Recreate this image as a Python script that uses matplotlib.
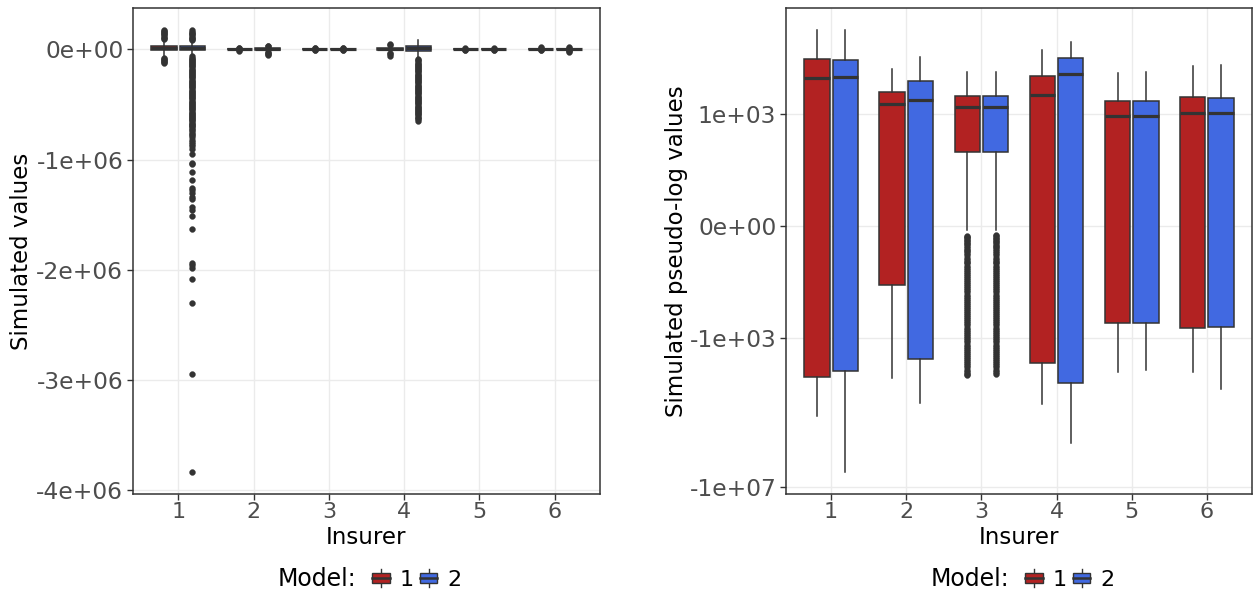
import numpy as np
import matplotlib
matplotlib.use('Agg')
import matplotlib.pyplot as plt
from matplotlib.legend_handler import HandlerBase
from matplotlib.patches import Rectangle, Patch
from matplotlib.lines import Line2D

# ---------------- data ----------------
insurers = ['1', '2', '3', '4', '5', '6']
models = ['1', '2']
model_colors = ['#B22222', '#4169E1']

# quartiles (data units), per insurer
m1_q1 = [-10900, -38, 93.5, -4690, -400, -533]
m1_med = [9060, 1860, 1520, 3180, 889, 1030]
m1_q3 = [29700, 3760, 2990, 10400, 2240, 2760]
m2_q1 = [-7870, -3760, 93.5, -16500, -400, -512]
m2_med = [9640, 2340, 1550, 11400, 889, 1050]
m2_q3 = [27500, 7670, 2990, 30500, 2240, 2690]

# whiskers on the linear panel
m1_lo_lin = [-70000, -5700, -4200, -27000, -4300, -5400]
m1_hi_lin = [88000, 9400, 7300, 33000, 6200, 7700]
m2_lo_lin = [-60000, -20000, -4200, -87000, -4300, -5400]
m2_hi_lin = [80000, 24000, 7300, 81700, 6200, 7600]

# outliers on the linear panel
m1_out_lin = [
    [95000, 105000, 115000, 125000, 135000, 145000, 155000, 165000, 174000,
     -75000, -85000, -95000, -105000, -115000, -122000],
    [10000, 15500, -6000, -11800],
    [8000, 13400, -5000, -10000],
    [40000, 49900, -30000, -45000, -60000],
    [7000, 12100, -5000, -8020],
    [9000, 18600, -6000, -8170],
]
m2_ins1_out_k = [85, 95, 105, 115, 125, 135, 145, 160, 171,
                 -65, -75, -85, -95, -105, -115, -125, -135, -145, -155, -165, -175, -185,
                 -195, -205, -215, -225, -235, -245, -255, -265, -275, -285, -295, -305,
                 -315, -325, -335, -345, -355, -365, -375, -385, -395, -405, -415, -425,
                 -435, -445, -455, -465, -475, -485, -495, -505, -515, -525, -535, -545,
                 -555, -565, -575, -585, -595, -605, -615, -625, -635, -645, -655, -665,
                 -675, -685, -695, -705, -720, -735, -750, -765, -780, -800, -820, -840,
                 -860, -880, -905,
                 -946, -1028, -1039, -1112, -1187, -1257, -1274, -1301, -1336, -1359,
                 -1432, -1456, -1511, -1631, -1939, -1961, -1982, -2081, -2299, -2942,
                 -3833]
m2_ins4_out_k = [-90, -100, -110, -120, -130, -140, -150, -160, -170, -180, -190, -200,
                 -210, -220, -230, -240, -250, -260, -270, -280, -290, -300, -310, -320,
                 -330, -340, -350, -360, -370, -380, -390, -400, -410, -420, -430, -440,
                 -450, -460, -470, -480, -490, -500, -510, -520, -530, -540, -550, -560,
                 -570, -580, -590, -600, -610, -620, -630, -646]
m2_out_lin = [
    [v * 1000 for v in m2_ins1_out_k],
    [26000, 32400, -22000, -30000, -40000, -56400],
    [8000, 13100, -5000, -9230],
    [v * 1000 for v in m2_ins4_out_k],
    [7000, 13400, -5000, -7080],
    [9000, 19800, -6000, -12000, -22800],
]

# whiskers on the pseudo-log panel
m1_lo_pl = [-122000, -11800, -0.5, -60000, -8020, -8170]
m1_hi_pl = [174000, 15500, 13400, 49900, 12100, 18600]
m2_lo_pl = [-3855000, -56400, -0.5, -646000, -7080, -22800]
m2_hi_pl = [171000, 32400, 13100, 81700, 13400, 19800]

# outliers on the pseudo-log panel (only insurer 3)
ins3_out_m1 = [-1.3, -1.5, -1.7, -1.9, -2.2, -2.5, -2.8, -3.2, -3.6, -4.1, -4.6, -5.3, -6,
               -7, -8, -9, -10, -11.5, -13, -15, -17, -19.5, -22, -25, -28, -32, -36, -41,
               -46, -53, -60, -70, -80, -90, -100, -115, -130, -150, -170, -195, -220, -250,
               -280, -320, -360, -410, -460, -530, -600, -700, -800, -900, -1000, -1150,
               -1300, -1500, -1700, -1950, -2200, -2500, -2800, -3200, -3600, -4100, -4600,
               -5300, -6000, -7000, -8000, -9000, -10000]
ins3_out_m2 = [-1.2, -1.4, -1.6, -1.85, -2.1, -2.4, -2.7, -3.1, -3.5, -4, -4.5, -5.2, -6,
               -7, -8, -9, -10, -11.5, -13, -15, -17, -19.5, -22, -25, -28, -32, -36, -41,
               -46, -53, -60, -70, -80, -90, -100, -115, -130, -150, -170, -195, -220, -250,
               -280, -320, -360, -410, -460, -530, -600, -700, -800, -900, -1000, -1150,
               -1300, -1500, -1700, -1950, -2200, -2500, -2800, -3200, -3600, -4100, -4600,
               -5300, -6000, -7000, -8000, -9230]
m1_out_pl = [[], [], ins3_out_m1, [], [], []]
m2_out_pl = [[], [], ins3_out_m2, [], [], []]

left_ticks = [-4e6, -3e6, -2e6, -1e6, 0]
left_ticklabels = ['-4e+06', '-3e+06', '-2e+06', '-1e+06', '0e+00']
right_ticks = [-1e7, -1e3, 0, 1e3]
right_ticklabels = ['-1e+07', '-1e+03', '0e+00', '1e+03']

# ---------------- style ----------------
DARK = '#333333'
TICKCOL = '#4D4D4D'
GRID = '#EBEBEB'
FS_YTICK = 16.8
FS_XTICK = 16
FS_TITLE = 16.5
plt.rcParams['font.family'] = ['DejaVu Sans']

W, H = 1254, 592
fig = plt.figure(figsize=(W / 100, H / 100), dpi=100)
axL = fig.add_axes([133 / W, 98 / H, 467 / W, 486 / H])
axR = fig.add_axes([786 / W, 98 / H, 466 / W, 486 / H])

pos = np.arange(1, len(insurers) + 1)
BW = 0.3375
OFF = 0.1875


def draw(ax, q1, med, q3, lo, hi, outs, offset, color):
    stats = []
    for i in range(len(insurers)):
        stats.append(dict(med=med[i], q1=q1[i], q3=q3[i], whislo=lo[i], whishi=hi[i],
                          fliers=np.array(outs[i], dtype=float)))
    ax.bxp(stats, positions=pos + offset, widths=BW, patch_artist=True, showcaps=False,
           manage_ticks=False,
           boxprops=dict(facecolor=color, edgecolor=DARK, linewidth=1.1),
           medianprops=dict(color=DARK, linewidth=2.3, solid_capstyle='butt'),
           whiskerprops=dict(color=DARK, linewidth=1.1),
           flierprops=dict(marker='o', markerfacecolor=DARK, markeredgecolor=DARK,
                           markeredgewidth=0.3, markersize=4.2))


# left panel
draw(axL, m1_q1, m1_med, m1_q3, m1_lo_lin, m1_hi_lin, m1_out_lin, -OFF, model_colors[0])
draw(axL, m2_q1, m2_med, m2_q3, m2_lo_lin, m2_hi_lin, m2_out_lin, OFF, model_colors[1])
allL = np.concatenate([np.concatenate([np.array(o, float) for o in m1_out_lin + m2_out_lin]),
                       m1_lo_lin, m2_lo_lin, m1_hi_lin, m2_hi_lin])
lo, hi = allL.min(), allL.max()
pad = 0.05 * (hi - lo)
axL.set_ylim(lo - pad, hi + pad)
axL.set_yticks(left_ticks)
axL.set_yticklabels(left_ticklabels)


# right panel (pseudo-log, sigma=1, base=10)
def fwd(x):
    return np.arcsinh(np.asarray(x, float) / 2.0) / np.log(10)


def inv(y):
    return 2.0 * np.sinh(np.asarray(y, float) * np.log(10))


axR.set_yscale('function', functions=(fwd, inv))
draw(axR, m1_q1, m1_med, m1_q3, m1_lo_pl, m1_hi_pl, m1_out_pl, -OFF, model_colors[0])
draw(axR, m2_q1, m2_med, m2_q3, m2_lo_pl, m2_hi_pl, m2_out_pl, OFF, model_colors[1])
allR = fwd(np.concatenate([m1_lo_pl, m2_lo_pl, m1_hi_pl, m2_hi_pl]))
lo, hi = allR.min(), allR.max()
pad = 0.05 * (hi - lo)
axR.set_ylim(inv(lo - pad), inv(hi + pad))
axR.set_yticks(right_ticks)
axR.set_yticklabels(right_ticklabels)
axR.minorticks_off()

for ax, ylab, ylx in [(axL, 'Simulated values', (22 - 133) / 467),
                      (axR, 'Simulated pseudo-log values', (676 - 786) / 466)]:
    ax.set_xlim(0.4, len(insurers) + 0.6)
    ax.set_xticks(pos)
    ax.set_xticklabels(insurers)
    ax.grid(True, color=GRID, linewidth=1.0)
    ax.set_axisbelow(True)
    for s in ax.spines.values():
        s.set_color(DARK)
        s.set_linewidth(1.1)
    ax.tick_params(axis='both', length=4, width=1.0, color=DARK, labelcolor=TICKCOL)
    ax.tick_params(axis='y', labelsize=FS_YTICK, pad=3)
    ax.tick_params(axis='x', labelsize=FS_XTICK, pad=2)
    ax.set_xlabel('Insurer', fontsize=FS_TITLE, color='black', va='center')
    ax.set_ylabel(ylab, fontsize=FS_TITLE, color='black', va='center')
    ax.xaxis.set_label_coords(0.5, (494 - 538) / 486)
    ax.yaxis.set_label_coords(ylx, 0.5)


class BoxKeyHandler(HandlerBase):
    def create_artists(self, legend, orig_handle, xdescent, ydescent, width, height,
                       fontsize, trans):
        col = orig_handle.get_facecolor()
        x0, y0 = -xdescent, -ydescent
        cx = x0 + width / 2
        wl = Line2D([cx, cx], [y0 + 0.05 * height, y0 + 0.95 * height], color=DARK,
                    linewidth=1.0, transform=trans)
        box = Rectangle((x0 + 0.1 * width, y0 + 0.25 * height), 0.8 * width, 0.5 * height,
                        facecolor=col, edgecolor=DARK, linewidth=1.0, transform=trans)
        md = Line2D([x0 + 0.1 * width, x0 + 0.9 * width], [y0 + height / 2] * 2,
                    color=DARK, linewidth=1.8, transform=trans)
        return [wl, box, md]


handles = [Patch(facecolor=c) for c in model_colors]
for tx in [278, 931]:
    fig.text(tx / W, 1 - 579 / H, 'Model:', fontsize=17, va='center', ha='left')
    fig.legend(handles, models, loc='center left', bbox_to_anchor=((tx + 92) / W, 1 - 579 / H),
               ncol=2, frameon=False, fontsize=16, handler_map={Patch: BoxKeyHandler()},
               handlelength=1.0, handleheight=1.0, handletextpad=0.35, columnspacing=0.15,
               borderpad=0, borderaxespad=0)

fig.savefig('out.png', dpi=100)
